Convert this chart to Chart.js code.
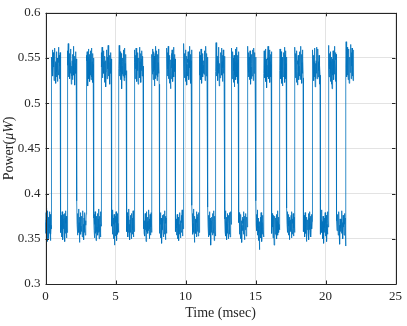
<!DOCTYPE html>
<html>
<head>
<meta charset="utf-8">
<script src="https://cdn.jsdelivr.net/npm/chart.js@4/dist/chart.umd.min.js"></script>
<style>
  html, body { margin: 0; padding: 0; background: #fff; }
  canvas { display: block; }
</style>
</head>
<body>
<canvas id="chart" width="407" height="326"></canvas>
<script>
// switching instants (msec), signal starts low and ends high
var edgeTimes = [0.426, 1.064, 1.560, 2.234, 2.908, 3.440, 3.972, 4.716, 5.248, 5.780,
    6.348, 6.986, 7.589, 8.121, 8.652, 9.255, 9.858, 10.461, 10.993, 11.596,
    12.163, 12.801, 13.262, 13.794, 14.433, 15.035, 15.603, 16.135, 16.738, 17.234,
    17.801, 18.404, 19.043, 19.610, 20.213, 20.780, 21.454, 22.021];

// power samples (uW)
var lowSamples = [
    [.368,.379,.356,.371,.360,.384,.352,.366,.375,.347,.369,.358,.381,.363,.350,.372,
     .359,.374,.351,.366,.380,.356,.370,.362,.377,.348,.368,.373,.355,.365,.379,.361],
    [.388,.371,.357,.376,.363,.352,.374,.360,.380,.355,.367,.349,.372,.361,.377,.366,
     .370,.354,.378,.362,.347,.373,.359,.381,.356,.367,.375,.351,.369,.363,.357,.374],
    [.392,.366,.378,.354,.370,.361,.383,.357,.368,.346,.374,.362,.379,.355,.364,.371,
     .358,.375,.352,.369,.381,.360,.366,.349,.373,.357,.379,.362,.354,.370,.365,.377],
    [.385,.373,.359,.377,.351,.366,.380,.362,.356,.371,.348,.368,.375,.358,.363,.369,
     .361,.378,.354,.372,.357,.383,.363,.350,.369,.375,.358,.366,.380,.352,.371,.364],
    [.390,.364,.376,.355,.369,.358,.382,.361,.373,.350,.366,.377,.343,.365,.372,.360,
     .375,.353,.368,.380,.359,.371,.348,.374,.362,.378,.355,.367,.357,.381,.363,.370],
    [.386,.372,.358,.379,.362,.370,.352,.375,.357,.368,.383,.354,.366,.349,.371,.364,
     .357,.376,.361,.370,.350,.378,.365,.355,.373,.360,.381,.352,.368,.375,.358,.366],
    [.389,.361,.377,.356,.370,.364,.353,.378,.360,.372,.347,.367,.380,.358,.369,.363,
     .374,.356,.370,.359,.382,.364,.350,.372,.361,.377,.354,.368,.363,.379,.357,.371],
    [.384,.370,.356,.374,.362,.379,.351,.366,.373,.355,.368,.345,.372,.360,.376,.365,
     .358,.377,.363,.352,.372,.366,.381,.355,.369,.360,.375,.349,.367,.373,.356,.364],
    [.391,.367,.381,.358,.372,.354,.369,.362,.377,.350,.365,.374,.357,.370,.348,.366,
     .373,.355,.379,.363,.351,.370,.360,.376,.357,.368,.382,.353,.366,.374,.361,.369],
    [.387,.374,.360,.378,.355,.367,.383,.357,.371,.362,.346,.369,.375,.359,.364,.372,
     .356,.371,.364,.380,.352,.368,.374,.358,.366,.377,.353,.370,.362,.379,.357,.367],
    [.385,.363,.376,.352,.371,.359,.380,.365,.354,.373,.361,.368,.343,.370,.357,.366,
     .374,.360,.378,.354,.369,.363,.381,.356,.372,.348,.367,.375,.359,.370,.364,.353],
    [.390,.372,.357,.375,.364,.381,.353,.369,.360,.374,.349,.366,.378,.356,.371,.362,
     .358,.376,.363,.350,.373,.367,.355,.379,.361,.370,.352,.374,.364,.357,.380,.366],
    [.386,.368,.379,.355,.373,.361,.366,.350,.377,.358,.370,.346,.365,.374,.359,.367,
     .372,.355,.380,.362,.369,.349,.375,.360,.366,.378,.353,.371,.358,.374,.363,.368],
    [.392,.365,.377,.359,.370,.354,.382,.362,.368,.348,.373,.357,.364,.338,.369,.361,
     .357,.374,.366,.351,.379,.362,.371,.347,.368,.376,.355,.372,.360,.366,.378,.352],
    [.388,.371,.356,.378,.363,.369,.351,.376,.359,.366,.343,.372,.360,.375,.355,.368,
     .373,.358,.377,.361,.350,.370,.365,.381,.354,.368,.374,.357,.366,.379,.360,.371],
    [.384,.366,.380,.357,.372,.362,.354,.377,.364,.370,.349,.368,.374,.358,.363,.371,
     .359,.376,.351,.369,.380,.361,.372,.355,.367,.378,.353,.370,.362,.374,.357,.365],
    [.389,.373,.358,.376,.361,.369,.352,.379,.365,.356,.371,.347,.367,.374,.360,.366,
     .371,.355,.378,.364,.349,.373,.360,.380,.357,.368,.375,.352,.366,.377,.361,.369],
    [.386,.364,.378,.355,.371,.360,.382,.357,.369,.363,.350,.375,.361,.368,.345,.370,
     .357,.373,.362,.379,.353,.368,.376,.359,.371,.347,.366,.380,.355,.370,.363,.374],
    [.391,.370,.359,.377,.362,.373,.354,.367,.380,.356,.365,.344,.372,.358,.369,.362,
     .372,.356,.381,.360,.368,.350,.376,.363,.370,.354,.378,.359,.366,.373,.342,.368]
];

// power samples (uW)
var highSamples = [
    [.528,.551,.537,.559,.543,.530,.556,.540,.548,.525,.553,.536,.561,.532,.546,.522,
     .544,.529,.557,.535,.550,.524,.548,.538,.562,.531,.545,.553,.527,.541,.556,.534],
    [.534,.558,.542,.566,.529,.550,.538,.555,.527,.545,.560,.533,.549,.521,.541,.530,
     .547,.526,.554,.539,.563,.531,.548,.536,.552,.520,.544,.557,.533,.549,.528,.542],
    [.536,.553,.529,.547,.557,.532,.544,.519,.551,.538,.560,.527,.546,.535,.554,.524,
     .549,.531,.558,.540,.526,.552,.537,.561,.529,.546,.534,.555,.523,.543,.550,.532],
    [.531,.556,.540,.562,.528,.549,.537,.558,.533,.546,.523,.552,.539,.547,.518,.535,
     .542,.559,.527,.551,.538,.564,.530,.547,.535,.553,.521,.545,.556,.533,.549,.528],
    [.538,.564,.530,.552,.543,.557,.526,.548,.535,.555,.529,.545,.516,.541,.550,.532,
     .546,.530,.559,.537,.551,.525,.548,.540,.561,.528,.544,.554,.531,.547,.519,.536],
    [.533,.559,.545,.527,.553,.538,.561,.530,.547,.524,.550,.536,.556,.521,.543,.529,
     .550,.534,.562,.528,.546,.539,.555,.523,.549,.536,.558,.530,.544,.552,.526,.541],
    [.529,.554,.539,.560,.532,.548,.526,.557,.541,.535,.552,.519,.546,.537,.555,.527,
     .543,.563,.531,.550,.536,.558,.525,.547,.540,.554,.529,.545,.560,.533,.548,.521],
    [.536,.561,.544,.530,.556,.538,.563,.527,.549,.534,.553,.522,.545,.540,.516,.531,
     .548,.527,.555,.539,.559,.532,.546,.524,.551,.537,.562,.529,.543,.554,.535,.549],
    [.532,.566,.541,.555,.528,.550,.537,.559,.524,.546,.535,.552,.520,.543,.549,.530,
     .545,.557,.533,.551,.526,.548,.539,.563,.530,.544,.554,.522,.547,.536,.559,.528],
    [.539,.557,.531,.553,.544,.526,.560,.536,.548,.522,.551,.538,.555,.529,.542,.533,
     .547,.532,.558,.540,.552,.525,.549,.537,.563,.530,.545,.555,.527,.542,.551,.534],
    [.535,.567,.543,.530,.558,.540,.552,.525,.547,.562,.533,.549,.519,.544,.537,.528,
     .550,.528,.556,.538,.561,.531,.546,.524,.553,.539,.559,.533,.548,.521,.544,.552],
    [.530,.555,.538,.561,.527,.546,.533,.557,.541,.523,.550,.536,.553,.518,.544,.531,
     .546,.560,.534,.549,.526,.555,.540,.562,.529,.545,.537,.553,.522,.548,.541,.557],
    [.537,.563,.542,.529,.556,.534,.551,.526,.548,.558,.531,.545,.521,.540,.554,.527,
     .544,.530,.559,.538,.552,.525,.547,.561,.533,.549,.536,.556,.520,.545,.551,.532],
    [.533,.558,.540,.552,.528,.547,.535,.560,.524,.549,.538,.544,.517,.542,.550,.529,
     .548,.563,.531,.545,.556,.527,.551,.538,.559,.523,.546,.534,.554,.529,.543,.557],
    [.536,.560,.531,.554,.543,.527,.557,.539,.548,.522,.551,.534,.546,.519,.541,.530,
     .550,.529,.556,.541,.562,.532,.547,.523,.553,.538,.558,.527,.544,.551,.535,.546],
    [.531,.562,.545,.528,.555,.537,.549,.523,.558,.535,.547,.520,.543,.553,.532,.526,
     .541,.557,.530,.549,.536,.563,.526,.548,.539,.554,.522,.545,.559,.533,.550,.528],
    [.538,.556,.530,.559,.542,.534,.553,.525,.546,.561,.529,.550,.518,.544,.537,.527,
     .547,.562,.533,.551,.527,.555,.540,.560,.529,.546,.536,.553,.521,.549,.542,.531],
    [.534,.564,.541,.529,.555,.538,.548,.524,.557,.533,.546,.521,.551,.539,.516,.530,
     .549,.531,.558,.537,.553,.526,.547,.563,.532,.545,.539,.556,.524,.548,.554,.535],
    [.540,.568,.535,.557,.529,.562,.545,.531,.553,.526,.560,.538,.548,.522,.543,.528,
     .551,.534,.565,.539,.549,.527,.556,.541,.561,.530,.546,.553,.525,.548,.537,.559]
];

var xTicks = [0, 5, 10, 15, 20, 25];
var xTickLabels = ['0', '5', '10', '15', '20', '25'];
var yTicks = [0.3, 0.35, 0.4, 0.45, 0.5, 0.55, 0.6];
var yTickLabels = ['0.3', '0.35', '0.4', '0.45', '0.5', '0.55', '0.6'];

var axisColor = '#262626';
var lineColor = '#0072BD';

// lay the samples of each segment evenly between its two switching instants
var points = [];
var bounds = [0].concat(edgeTimes);
for (var k = 0; k < bounds.length - 1; k++) {
    var samples = (k % 2 == 0) ? lowSamples[k / 2] : highSamples[(k - 1) / 2];
    var a = bounds[k], b = bounds[k + 1];
    for (var j = 0; j < samples.length; j++) {
        points.push({x: a + (b - a) * j / (samples.length - 1), y: samples[j]});
    }
}

// MATLAB-like box, inward ticks and the y label with italic unit
var axesBox = {
    id: 'axesBox',
    afterDraw: function (chart) {
        var ctx = chart.ctx, area = chart.chartArea;
        var xs = chart.scales.x, ys = chart.scales.y;
        var tl = 3.5;
        ctx.save();
        ctx.strokeStyle = axisColor;
        ctx.lineWidth = 1;
        ctx.beginPath();
        ctx.rect(Math.round(area.left) + 0.5, Math.round(area.top) + 0.5,
            Math.round(area.right - area.left), Math.round(area.bottom - area.top));
        xTicks.forEach(function (v) {
            var px = Math.round(xs.getPixelForValue(v)) + 0.5;
            ctx.moveTo(px, area.bottom); ctx.lineTo(px, area.bottom - tl);
            ctx.moveTo(px, area.top); ctx.lineTo(px, area.top + tl);
        });
        yTicks.forEach(function (v) {
            var py = Math.round(ys.getPixelForValue(v)) + 0.5;
            ctx.moveTo(area.left, py); ctx.lineTo(area.left + tl, py);
            ctx.moveTo(area.right, py); ctx.lineTo(area.right - tl, py);
        });
        ctx.stroke();

        // y axis title
        var cy = (area.top + area.bottom) / 2;
        ctx.translate(9, cy);
        ctx.rotate(-Math.PI / 2);
        ctx.fillStyle = axisColor;
        ctx.textBaseline = 'middle';
        var parts = [
            {t: 'Power(', f: '14px "Liberation Serif"'},
            {t: '\u03bcW', f: 'italic 14px "Liberation Serif"'},
            {t: ')', f: '14px "Liberation Serif"'}
        ];
        var total = 0;
        parts.forEach(function (p) { ctx.font = p.f; total += ctx.measureText(p.t).width; });
        var x = -total / 2;
        parts.forEach(function (p) {
            ctx.font = p.f;
            ctx.fillText(p.t, x, 0);
            x += ctx.measureText(p.t).width;
        });
        ctx.restore();
    }
};

new Chart(document.getElementById('chart'), {
    type: 'line',
    data: {
        datasets: [{
            data: points,
            borderColor: lineColor,
            borderWidth: 0.8,
            pointRadius: 0,
            tension: 0,
            fill: false
        }]
    },
    options: {
        responsive: false,
        animation: false,
        parsing: false,
        normalized: true,
        layout: {padding: {top: 6, right: 9, left: 0, bottom: 0}},
        plugins: {legend: {display: false}, tooltip: {enabled: false}},
        scales: {
            x: {
                type: 'linear',
                min: 0,
                max: 25,
                afterBuildTicks: function (scale) {
                    scale.ticks = xTicks.map(function (v) { return {value: v}; });
                },
                afterFit: function (scale) { scale.height = 42; },
                ticks: {
                    color: axisColor,
                    padding: 5,
                    maxRotation: 0,
                    autoSkip: false,
                    font: {family: '"Liberation Serif"', size: 13},
                    callback: function (v, i) { return xTickLabels[i]; }
                },
                grid: {color: '#e3e3e3', lineWidth: 1, drawTicks: false},
                border: {display: false},
                title: {
                    display: true,
                    text: 'Time (msec)',
                    color: axisColor,
                    font: {family: '"Liberation Serif"', size: 14},
                    padding: {top: 0, bottom: 4}
                }
            },
            y: {
                type: 'linear',
                min: 0.3,
                max: 0.6,
                afterBuildTicks: function (scale) {
                    scale.ticks = yTicks.map(function (v) { return {value: v}; });
                },
                afterFit: function (scale) { scale.width = 45.5; },
                ticks: {
                    color: axisColor,
                    padding: 5,
                    autoSkip: false,
                    font: {family: '"Liberation Serif"', size: 13},
                    callback: function (v, i) { return yTickLabels[i]; }
                },
                grid: {color: '#e3e3e3', lineWidth: 1, drawTicks: false},
                border: {display: false}
            }
        }
    },
    plugins: [axesBox]
});
</script>
</body>
</html>
